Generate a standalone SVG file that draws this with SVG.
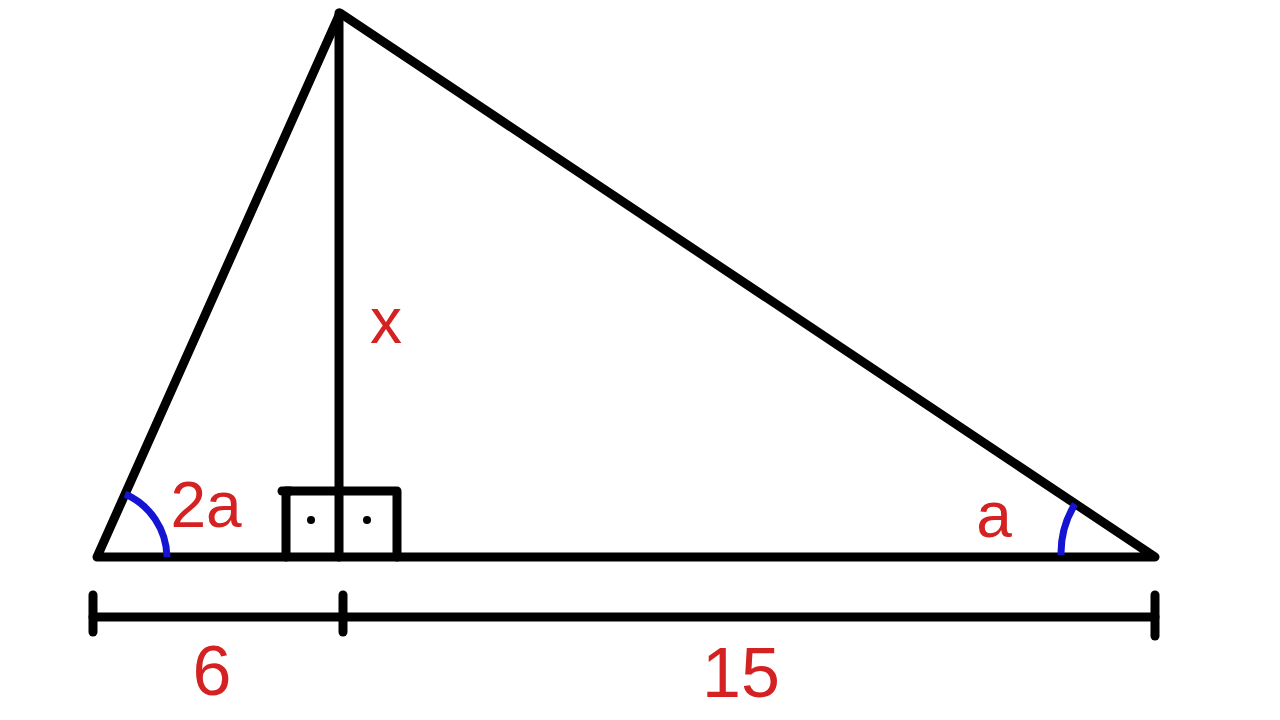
<svg xmlns="http://www.w3.org/2000/svg" width="1280" height="720" viewBox="0 0 1280 720">
<style>
.k{stroke:#000;stroke-width:9;fill:none;stroke-linecap:round;stroke-linejoin:round}
.b{stroke:#1414d2;stroke-width:7;fill:none}
.t{fill:#d42222;font-family:"Liberation Sans",Arial,sans-serif;text-anchor:middle}
</style>
<rect width="1280" height="720" fill="#fff"/>
<g id="triangle">
<polygon class="k" points="97,557 340,13 1155,557"/>
</g>
<g id="altitude">
<line class="k" x1="339" y1="13" x2="339" y2="557"/>
<polyline class="k" points="286,557 286,491 397,491 397,557"/>
<line class="k" x1="282" y1="491" x2="290" y2="491"/>
<circle cx="311" cy="520" r="4" fill="#000"/>
<circle cx="367" cy="520" r="4" fill="#000"/>
</g>
<g id="angles">
<path class="b" d="M125,494 A70,70 0 0 1 167,557"/>
<path class="b" d="M1075,504 A94,94 0 0 0 1061,555"/>
</g>
<g id="dimension">
<line class="k" x1="93" y1="617" x2="1155" y2="617"/>
<line class="k" x1="93" y1="595" x2="93" y2="632"/>
<line class="k" x1="343" y1="595" x2="343" y2="632"/>
<line class="k" x1="1155" y1="595" x2="1155" y2="636"/>
</g>
<g id="labels">
<text class="t" x="206" y="527" font-size="64">2a</text>
<text class="t" x="994" y="537" font-size="64">a</text>
<text class="t" x="386" y="343" font-size="64">x</text>
<text class="t" x="212" y="695" font-size="70">6</text>
<text class="t" x="741" y="697" font-size="70">15</text>
</g>
</svg>
